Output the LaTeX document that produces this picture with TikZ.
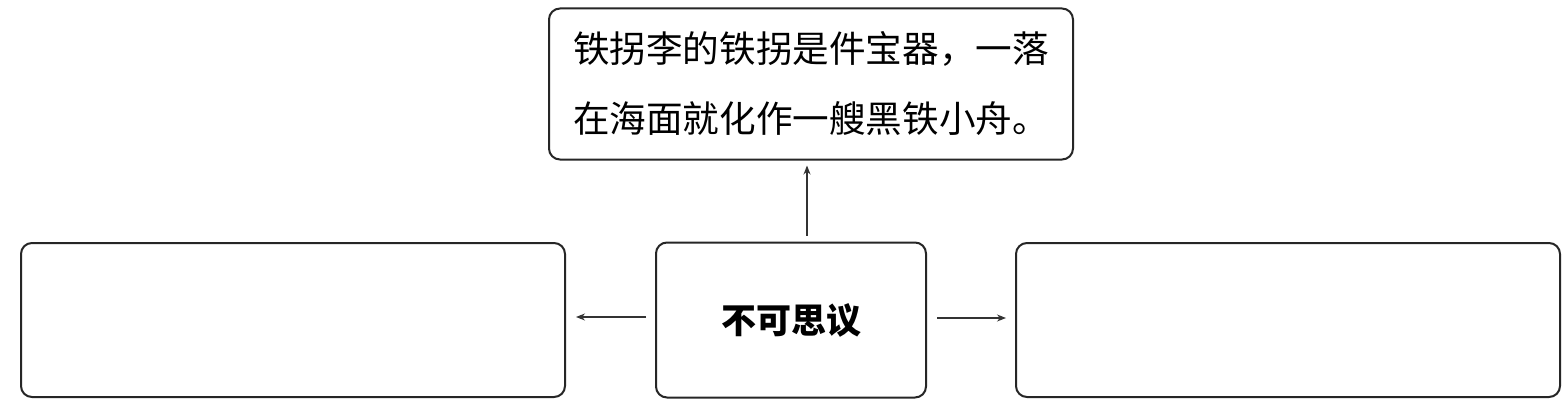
\documentclass[tikz,border=0pt]{standalone}
\usepackage{fontspec}
\newfontfamily\cjk{Noto Sans CJK SC}
\usetikzlibrary{arrows.meta,calc}
\tikzset{
  box/.style={draw=black!85, line width=2pt, rounded corners=11pt, inner sep=0pt},
  arr/.style={draw=black!80, line width=1.1pt, -{Stealth[length=9pt,width=7pt]}}
}
\begin{document}
\begin{tikzpicture}[x=1pt,y=-1pt]
\fill[white] (0,0) rectangle (1565,409);
\useasboundingbox (0,0) rectangle (1565,409);
\node[box, inner xsep=24pt, text width=476pt, minimum height=151pt, align=left,
      font=\cjk\fontsize{36.6}{70}\selectfont] (top) at (811,84)
  {铁拐李的铁拐是件宝器，一落\\在海面就化作一艘黑铁小舟。};
\node[box, minimum width=270pt, minimum height=155pt,
      font=\cjk\bfseries\fontsize{35}{40}\selectfont] (c) at (791,320) {不可思议};
\node[box, minimum width=544pt, minimum height=154pt] (l) at (293,320) {};
\node[box, minimum width=544pt, minimum height=154pt] (r) at (1288,320) {};
\draw[arr, shorten <=6pt, shorten >=5pt] ([xshift=16pt]c.north) -- ([xshift=16pt]c.north |- top.south);
\draw[arr, shorten <=9pt, shorten >=10pt] ([yshift=3pt]c.west) -- ([yshift=3pt]c.west -| l.east);
\draw[arr, shorten <=10pt, shorten >=9pt] ([yshift=2pt]c.east) -- ([yshift=2pt]c.east -| r.west);
\end{tikzpicture}
\end{document}
